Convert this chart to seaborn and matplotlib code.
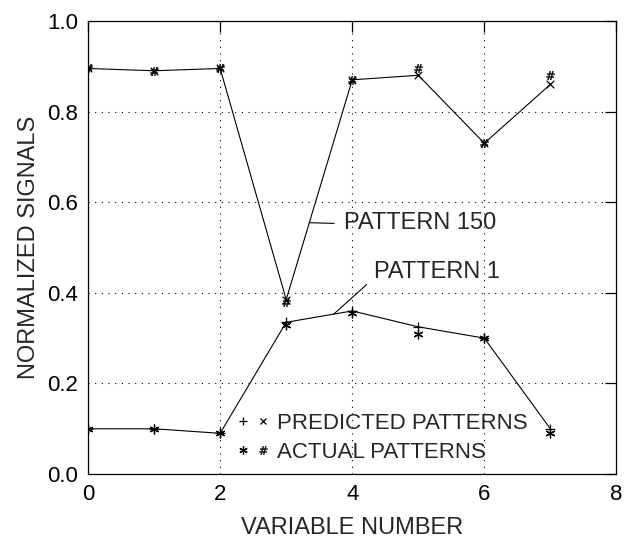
import numpy as np
import seaborn as sns
import matplotlib.pyplot as plt
from matplotlib.lines import Line2D
from matplotlib.legend_handler import HandlerTuple

# variable numbers on the x axis
variables = [0, 1, 2, 3, 4, 5, 6, 7]

# pattern 150 (upper curve)
pred_150 = [0.895, 0.89, 0.895, 0.385, 0.87, 0.88, 0.73, 0.86]
act_150 = [0.895, 0.89, 0.895, 0.38, 0.87, 0.895, 0.73, 0.88]

# pattern 1 (lower curve)
pred_1 = [0.10, 0.10, 0.09, 0.335, 0.36, 0.325, 0.30, 0.10]
act_1 = [0.10, 0.10, 0.09, 0.33, 0.355, 0.31, 0.30, 0.09]

x_ticks = [0, 2, 4, 6, 8]
y_ticks = [0.0, 0.2, 0.4, 0.6, 0.8, 1.0]

sns.set_theme(style='white')
plt.rcParams['font.family'] = ['Liberation Sans', 'DejaVu Sans']
plt.rcParams['mathtext.fontset'] = 'dejavusans'

fig = plt.figure(figsize=(6.29, 5.5), dpi=100)
ax = fig.add_axes([0.14, 0.138, 0.84, 0.824])

# connecting lines go through the predicted values
sns.lineplot(x=variables, y=pred_150, ax=ax, color='black', linewidth=0.8)
sns.lineplot(x=variables, y=pred_1, ax=ax, color='black', linewidth=0.8)

# markers
sns.scatterplot(x=variables, y=pred_1, ax=ax, marker='+', color='black', s=45, linewidth=0.9)
sns.scatterplot(x=variables, y=pred_150, ax=ax, marker='x', color='black', s=30, linewidth=0.9)
sns.scatterplot(x=variables, y=act_1, ax=ax, marker=(6, 2, 0), color='black', s=40, linewidth=0.9)
sns.scatterplot(x=variables, y=act_150, ax=ax, marker=r'$\#$', color='black',
                edgecolor='black', s=38, linewidth=0.3)

ax.set_xlim(0, 8)
ax.set_ylim(0, 1)
ax.set_xticks(x_ticks)
ax.set_yticks(y_ticks)
ax.set_xticklabels([str(v) for v in x_ticks])
ax.set_yticklabels([f'{v:.1f}' for v in y_ticks])
ax.tick_params(direction='in', top=True, right=True, length=8, width=0.9,
               labelsize=16, colors='black', pad=7)
ax.grid(True, linestyle=(0, (1, 5)), color='black', linewidth=0.8)
for s in ax.spines.values():
    s.set_color('black')
    s.set_linewidth(0.9)

ax.set_xlabel('VARIABLE NUMBER', fontsize=17, labelpad=9)
ax.set_ylabel('NORMALIZED SIGNALS', fontsize=17, labelpad=5)

# curve labels with leader lines
ax.annotate('PATTERN 150', xy=(3.35, np.interp(3.35, variables, pred_150)),
            xytext=(3.88, 0.555), fontsize=17, va='center', ha='left',
            arrowprops=dict(arrowstyle='-', color='black', lw=0.8, relpos=(0, 0.45),
                            shrinkA=5, shrinkB=0))
ax.annotate('PATTERN 1', xy=(3.72, np.interp(3.72, variables, pred_1)),
            xytext=(4.33, 0.445), fontsize=17, va='center', ha='left',
            arrowprops=dict(arrowstyle='-', color='black', lw=0.8, relpos=(0, 0.25),
                            shrinkA=4, shrinkB=0))

# legend: two symbols in front of each label
h_plus = Line2D([], [], marker='+', color='black', linestyle='none', markersize=6, markeredgewidth=0.9)
h_x = Line2D([], [], marker='x', color='black', linestyle='none', markersize=5, markeredgewidth=0.9)
h_star = Line2D([], [], marker=(6, 2, 0), color='black', linestyle='none', markersize=6, markeredgewidth=0.9)
h_hash = Line2D([], [], marker=r'$\#$', color='black', linestyle='none', markersize=6, markeredgewidth=0.3)
ax.legend(handles=[(h_plus, h_x), (h_star, h_hash)],
          labels=['PREDICTED PATTERNS', 'ACTUAL PATTERNS'],
          handler_map={tuple: HandlerTuple(ndivide=None, pad=0.3)},
          loc='lower left', bbox_to_anchor=(0.255, -0.005), frameon=False,
          fontsize=16, handlelength=1.5, handletextpad=0.35, labelspacing=0.35,
          borderaxespad=0.2)

plt.savefig('out.png', dpi=100)
